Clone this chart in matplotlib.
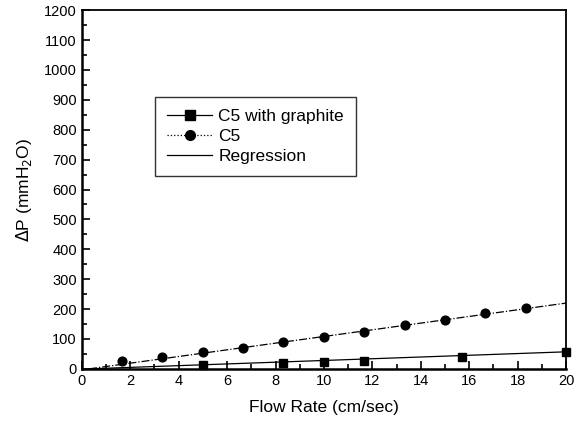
import matplotlib as mpl
mpl.use('Agg')
import matplotlib.pyplot as plt
from matplotlib.ticker import MultipleLocator

plt.rcParams['font.family'] = ['Liberation Sans', 'DejaVu Sans']

# C5 with graphite
gr_x = [5.0, 8.33, 10.0, 11.67, 15.7, 20.0]
gr_y = [12, 20, 23, 27, 40, 57]
# C5
c5_x = [1.67, 3.33, 5.0, 6.67, 8.33, 10.0, 11.67, 13.33, 15.0, 16.67, 18.33]
c5_y = [27, 40, 57, 70, 90, 107, 124, 147, 164, 187, 204]
# regression lines (end points)
reg_x = [0.3, 20.0]
reg_gr = [0, 57]
reg_c5 = [0, 220]

fig = plt.figure(figsize=(5.8, 4.23), dpi=100)
ax = fig.add_axes([0.141, 0.128, 0.835, 0.848])

ax.plot(reg_x, reg_gr, color='k', lw=0.9, zorder=2)
ax.plot(reg_x, reg_c5, color='k', lw=0.9, ls='-.', zorder=2)
ax.plot(gr_x, gr_y, color='k', marker='s', ms=5.5, ls='none', clip_on=False,
        zorder=3)
ax.plot(c5_x, c5_y, color='k', marker='o', ms=6.3, ls='none', zorder=3)

# legend handles
h1, = ax.plot([], [], color='k', lw=0.9, marker='s', ms=6.5,
              label='C5 with graphite')
h2, = ax.plot([], [], color='k', lw=0.9, ls=':', marker='o', ms=7, label='C5')
h3, = ax.plot([], [], color='k', lw=0.9, label='Regression')
leg = ax.legend(handles=[h1, h2, h3], loc='upper left',
                bbox_to_anchor=(0.151, 0.758), borderaxespad=0,
                fontsize=12.5, frameon=True, fancybox=False, edgecolor='k',
                handlelength=2.6, handletextpad=0.35,
                borderpad=0.7, labelspacing=0.28)
leg.get_frame().set_linewidth(1.0)

ax.set_xlim(0, 20)
ax.set_ylim(0, 1200)
ax.xaxis.set_major_locator(MultipleLocator(2))
ax.xaxis.set_minor_locator(MultipleLocator(1))
ax.yaxis.set_major_locator(MultipleLocator(100))
ax.yaxis.set_minor_locator(MultipleLocator(50))
ax.tick_params(which='both', direction='in', top=False, right=False,
               labelsize=10.5, width=1.2)
ax.tick_params(which='major', length=6)
ax.tick_params(which='minor', length=3.5)
for s in ['left', 'bottom']:
    ax.spines[s].set_linewidth(1.8)
for s in ['top', 'right']:
    ax.spines[s].set_linewidth(1.3)

ax.set_xlabel('Flow Rate (cm/sec)', fontsize=12.5, labelpad=9)
ax.set_ylabel(r'$\Delta$P (mmH$_2$O)', fontsize=12.5, labelpad=7)

fig.savefig('out.png', dpi=100)
